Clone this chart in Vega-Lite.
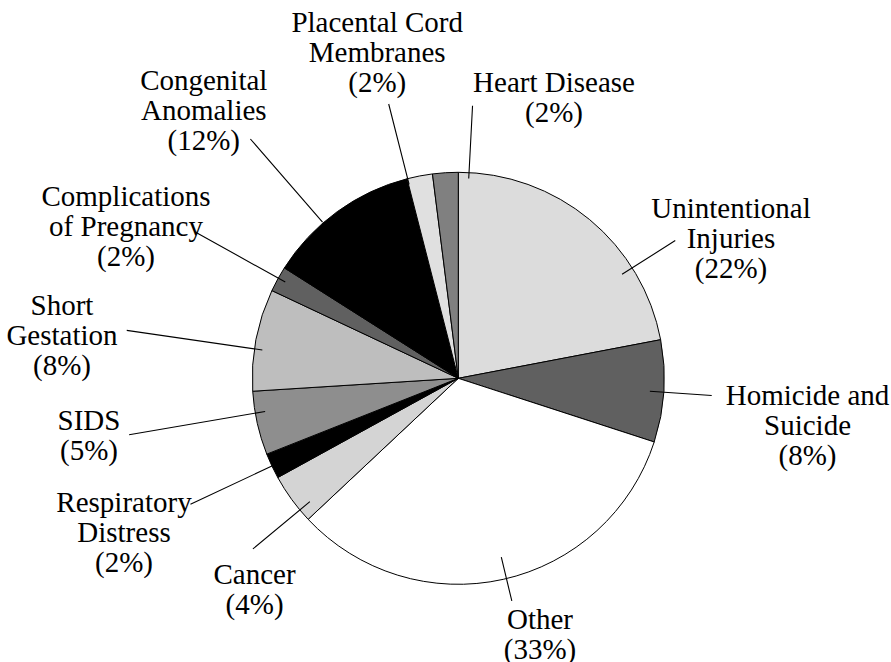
{
  "$schema": "https://vega.github.io/schema/vega-lite/v6.json",
  "width": 865.4,
  "height": 567.4,
  "padding": {"left": 25.6, "top": 94.6, "right": 0, "bottom": 0},
  "autosize": {"type": "none"},
  "background": "white",
  "config": {
    "view": {"stroke": null},
    "font": "Liberation Serif",
    "text": {"font": "Liberation Serif", "fontSize": 29, "lineHeight": 30, "lineBreak": "\n", "align": "center", "baseline": "middle", "color": "black"}
  },
  "data": {
    "values": [
      {"order": 1, "cause": "Unintentional Injuries", "value": 22, "label": "Unintentional\nInjuries\n(22%)"},
      {"order": 2, "cause": "Homicide and Suicide", "value": 8, "label": "Homicide and\nSuicide\n(8%)"},
      {"order": 3, "cause": "Other", "value": 33, "label": "Other\n(33%)"},
      {"order": 4, "cause": "Cancer", "value": 4, "label": "Cancer\n(4%)"},
      {"order": 5, "cause": "Respiratory Distress", "value": 2, "label": "Respiratory\nDistress\n(2%)"},
      {"order": 6, "cause": "SIDS", "value": 5, "label": "SIDS\n(5%)"},
      {"order": 7, "cause": "Short Gestation", "value": 8, "label": "Short\nGestation\n(8%)"},
      {"order": 8, "cause": "Complications of Pregnancy", "value": 2, "label": "Complications\nof Pregnancy\n(2%)"},
      {"order": 9, "cause": "Congenital Anomalies", "value": 12, "label": "Congenital\nAnomalies\n(12%)"},
      {"order": 10, "cause": "Placental Cord Membranes", "value": 2, "label": "Placental Cord\nMembranes\n(2%)"},
      {"order": 11, "cause": "Heart Disease", "value": 2, "label": "Heart Disease\n(2%)"}
    ]
  },
  "transform": [
    {"stack": "value", "groupby": [], "sort": [{"field": "order", "order": "ascending"}], "as": ["v0", "v1"]}
  ],
  "layer": [
    {
      "mark": {"type": "arc", "outerRadius": 206, "stroke": "black", "strokeWidth": 1},
      "encoding": {
        "theta": {"field": "v0", "type": "quantitative", "scale": {"domain": [0, 100], "nice": false}},
        "theta2": {"field": "v1"},
        "color": {
          "field": "cause", "type": "nominal", "legend": null,
          "scale": {
            "domain": ["Unintentional Injuries", "Homicide and Suicide", "Other", "Cancer", "Respiratory Distress", "SIDS", "Short Gestation", "Complications of Pregnancy", "Congenital Anomalies", "Placental Cord Membranes", "Heart Disease"],
            "range": ["#dcdcdc", "#606060", "#ffffff", "#d4d4d4", "#000000", "#8e8e8e", "#bebebe", "#606060", "#000000", "#e0e0e0", "#808080"]
          }
        }
      }
    },
    {
      "transform": [{"filter": "datum.cause === 'Unintentional Injuries'"}],
      "layer": [
        {"mark": {"type": "arc", "innerRadius": 194, "outerRadius": 257, "padAngle": 3, "thetaOffset": 0.314, "theta2Offset": 0.314, "fill": "transparent", "stroke": "black", "strokeWidth": 1.1},
         "encoding": {"theta": {"field": "v0", "type": "quantitative", "scale": {"domain": [0, 100], "nice": false}}, "theta2": {"field": "v1"}}},
        {"mark": {"type": "text", "radius": 320.8, "thetaOffset": 1.016, "font": "Liberation Serif", "fontSize": 29, "lineHeight": 30, "lineBreak": "\n", "align": "center", "baseline": "middle", "fill": "black"},
         "encoding": {"theta": {"field": "v0", "type": "quantitative", "scale": {"domain": [0, 100], "nice": false}}, "text": {"field": "label"}}}
      ]
    },
    {
      "transform": [{"filter": "datum.cause === 'Homicide and Suicide'"}],
      "layer": [
        {"mark": {"type": "arc", "innerRadius": 192, "outerRadius": 254, "padAngle": 3, "thetaOffset": 0.005, "theta2Offset": 0.005, "fill": "transparent", "stroke": "black", "strokeWidth": 1.1},
         "encoding": {"theta": {"field": "v0", "type": "quantitative", "scale": {"domain": [0, 100], "nice": false}}, "theta2": {"field": "v1"}}},
        {"mark": {"type": "text", "radius": 349.7, "thetaOffset": 0.24, "font": "Liberation Serif", "fontSize": 29, "lineHeight": 30, "lineBreak": "\n", "align": "center", "baseline": "middle", "fill": "black"},
         "encoding": {"theta": {"field": "v0", "type": "quantitative", "scale": {"domain": [0, 100], "nice": false}}, "text": {"field": "label"}}}
      ]
    },
    {
      "transform": [{"filter": "datum.cause === 'Other'"}],
      "layer": [
        {"mark": {"type": "arc", "innerRadius": 184, "outerRadius": 229, "padAngle": 3, "thetaOffset": -0.016, "theta2Offset": -0.016, "fill": "transparent", "stroke": "black", "strokeWidth": 1.1},
         "encoding": {"theta": {"field": "v0", "type": "quantitative", "scale": {"domain": [0, 100], "nice": false}}, "theta2": {"field": "v1"}}},
        {"mark": {"type": "text", "radius": 255.4, "thetaOffset": 0.9311, "font": "Liberation Serif", "fontSize": 29, "lineHeight": 30, "lineBreak": "\n", "align": "center", "baseline": "middle", "fill": "black"},
         "encoding": {"theta": {"field": "v0", "type": "quantitative", "scale": {"domain": [0, 100], "nice": false}}, "text": {"field": "label"}}}
      ]
    },
    {
      "transform": [{"filter": "datum.cause === 'Cancer'"}],
      "layer": [
        {"mark": {"type": "arc", "innerRadius": 193, "outerRadius": 267, "padAngle": 3, "thetaOffset": -0.065, "theta2Offset": -0.065, "fill": "transparent", "stroke": "black", "strokeWidth": 1.1},
         "encoding": {"theta": {"field": "v0", "type": "quantitative", "scale": {"domain": [0, 100], "nice": false}}, "theta2": {"field": "v1"}}},
        {"mark": {"type": "text", "radius": 283.4, "thetaOffset": -0.0145, "font": "Liberation Serif", "fontSize": 29, "lineHeight": 30, "lineBreak": "\n", "align": "center", "baseline": "middle", "fill": "black"},
         "encoding": {"theta": {"field": "v0", "type": "quantitative", "scale": {"domain": [0, 100], "nice": false}}, "text": {"field": "label"}}}
      ]
    },
    {
      "transform": [{"filter": "datum.cause === 'Respiratory Distress'"}],
      "layer": [
        {"mark": {"type": "arc", "innerRadius": 206, "outerRadius": 296, "padAngle": 3, "thetaOffset": 0, "theta2Offset": 0, "fill": "transparent", "stroke": "black", "strokeWidth": 1.1},
         "encoding": {"theta": {"field": "v0", "type": "quantitative", "scale": {"domain": [0, 100], "nice": false}}, "theta2": {"field": "v1"}}},
        {"mark": {"type": "text", "radius": 356.9, "thetaOffset": 0.1449, "font": "Liberation Serif", "fontSize": 29, "lineHeight": 30, "lineBreak": "\n", "align": "center", "baseline": "middle", "fill": "black"},
         "encoding": {"theta": {"field": "v0", "type": "quantitative", "scale": {"domain": [0, 100], "nice": false}}, "text": {"field": "label"}}}
      ]
    },
    {
      "transform": [{"filter": "datum.cause === 'SIDS'"}],
      "layer": [
        {"mark": {"type": "arc", "innerRadius": 196, "outerRadius": 334, "padAngle": 3, "thetaOffset": 0.05, "theta2Offset": 0.05, "fill": "transparent", "stroke": "black", "strokeWidth": 1.1},
         "encoding": {"theta": {"field": "v0", "type": "quantitative", "scale": {"domain": [0, 100], "nice": false}}, "theta2": {"field": "v1"}}},
        {"mark": {"type": "text", "radius": 371.8, "thetaOffset": 0.2611, "font": "Liberation Serif", "fontSize": 29, "lineHeight": 30, "lineBreak": "\n", "align": "center", "baseline": "middle", "fill": "black"},
         "encoding": {"theta": {"field": "v0", "type": "quantitative", "scale": {"domain": [0, 100], "nice": false}}, "text": {"field": "label"}}}
      ]
    },
    {
      "transform": [{"filter": "datum.cause === 'Short Gestation'"}],
      "layer": [
        {"mark": {"type": "arc", "innerRadius": 198, "outerRadius": 335, "padAngle": 3, "thetaOffset": -0.045, "theta2Offset": -0.045, "fill": "transparent", "stroke": "black", "strokeWidth": 1.1},
         "encoding": {"theta": {"field": "v0", "type": "quantitative", "scale": {"domain": [0, 100], "nice": false}}, "theta2": {"field": "v1"}}},
        {"mark": {"type": "text", "radius": 402.8, "thetaOffset": 0.2426, "font": "Liberation Serif", "fontSize": 29, "lineHeight": 30, "lineBreak": "\n", "align": "center", "baseline": "middle", "fill": "black"},
         "encoding": {"theta": {"field": "v0", "type": "quantitative", "scale": {"domain": [0, 100], "nice": false}}, "text": {"field": "label"}}}
      ]
    },
    {
      "transform": [{"filter": "datum.cause === 'Complications of Pregnancy'"}],
      "layer": [
        {"mark": {"type": "arc", "innerRadius": 198, "outerRadius": 300, "padAngle": 3, "thetaOffset": 0.005, "theta2Offset": 0.005, "fill": "transparent", "stroke": "black", "strokeWidth": 1.1},
         "encoding": {"theta": {"field": "v0", "type": "quantitative", "scale": {"domain": [0, 100], "nice": false}}, "theta2": {"field": "v1"}}},
        {"mark": {"type": "text", "radius": 378.4, "thetaOffset": 0.059, "font": "Liberation Serif", "fontSize": 29, "lineHeight": 30, "lineBreak": "\n", "align": "center", "baseline": "middle", "fill": "black"},
         "encoding": {"theta": {"field": "v0", "type": "quantitative", "scale": {"domain": [0, 100], "nice": false}}, "text": {"field": "label"}}}
      ]
    },
    {
      "transform": [{"filter": "datum.cause === 'Congenital Anomalies'"}],
      "layer": [
        {"mark": {"type": "arc", "innerRadius": 207, "outerRadius": 317, "padAngle": 3, "thetaOffset": -0.087, "theta2Offset": -0.087, "fill": "transparent", "stroke": "black", "strokeWidth": 1.1},
         "encoding": {"theta": {"field": "v0", "type": "quantitative", "scale": {"domain": [0, 100], "nice": false}}, "theta2": {"field": "v1"}}},
        {"mark": {"type": "text", "radius": 391.1, "thetaOffset": 0.2967, "font": "Liberation Serif", "fontSize": 29, "lineHeight": 30, "lineBreak": "\n", "align": "center", "baseline": "middle", "fill": "black"},
         "encoding": {"theta": {"field": "v0", "type": "quantitative", "scale": {"domain": [0, 100], "nice": false}}, "text": {"field": "label"}}}
      ]
    },
    {
      "transform": [{"filter": "datum.cause === 'Placental Cord Membranes'"}],
      "layer": [
        {"mark": {"type": "arc", "innerRadius": 200, "outerRadius": 283, "padAngle": 3, "thetaOffset": -0.06, "theta2Offset": -0.06, "fill": "transparent", "stroke": "black", "strokeWidth": 1.1},
         "encoding": {"theta": {"field": "v0", "type": "quantitative", "scale": {"domain": [0, 100], "nice": false}}, "theta2": {"field": "v1"}}},
        {"mark": {"type": "text", "radius": 364.4, "thetaOffset": 0.0269, "font": "Liberation Serif", "fontSize": 29, "lineHeight": 30, "lineBreak": "\n", "align": "center", "baseline": "middle", "fill": "black"},
         "encoding": {"theta": {"field": "v0", "type": "quantitative", "scale": {"domain": [0, 100], "nice": false}}, "text": {"field": "label"}}}
      ]
    },
    {
      "transform": [{"filter": "datum.cause === 'Heart Disease'"}],
      "layer": [
        {"mark": {"type": "arc", "innerRadius": 200, "outerRadius": 273, "padAngle": 3, "thetaOffset": 0.115, "theta2Offset": 0.115, "fill": "transparent", "stroke": "black", "strokeWidth": 1.1},
         "encoding": {"theta": {"field": "v0", "type": "quantitative", "scale": {"domain": [0, 100], "nice": false}}, "theta2": {"field": "v1"}}},
        {"mark": {"type": "text", "radius": 310.4, "thetaOffset": 0.4391, "font": "Liberation Serif", "fontSize": 29, "lineHeight": 30, "lineBreak": "\n", "align": "center", "baseline": "middle", "fill": "black"},
         "encoding": {"theta": {"field": "v0", "type": "quantitative", "scale": {"domain": [0, 100], "nice": false}}, "text": {"field": "label"}}}
      ]
    }
  ]
}
